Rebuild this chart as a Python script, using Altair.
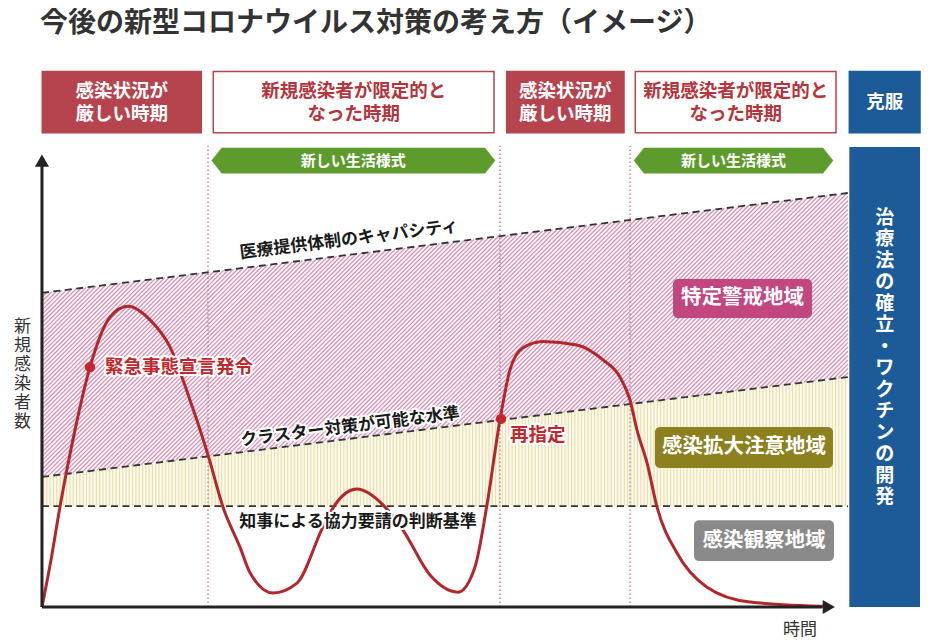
import altair as alt
import pandas as pd
import numpy as np

FONT = "Noto Sans CJK JP"

# ---------------- data (time t: 0..100 along the x axis, level: 0..100 up the y axis) ----------------
title_text = "今後の新型コロナウイルス対策の考え方（イメージ）"
y_title = "新規感染者数"
x_title = "時間"

curve_t = [0, 1.14, 2.28, 4.19, 6.09, 8.63, 10.91, 13.71, 16.24, 18.78,
           21.07, 22.97, 25.13, 26.40, 29.31, 32.36, 35.66, 37.18, 39.97, 43.27,
           45.81, 49.24, 52.79, 54.95, 56.47, 58.12, 59.39, 61.04, 63.58, 67.89,
           71.19, 73.35, 74.62, 75.51, 76.78, 78.05, 80.58, 84.39, 89.85, 100]
curve_v = [0, 10.4, 22.2, 39.3, 53.3, 64.4, 66.8, 63.8, 57.8, 46.0,
           33.8, 22.2, 13.3, 7.6, 3.1, 5.3, 17.8, 22.7, 26.2, 22.7,
           17.1, 7.1, 3.3, 8.9, 22.7, 41.6, 52.7, 57.6, 59.0, 58.2,
           54.9, 51.1, 46.0, 39.3, 32.0, 22.2, 12.0, 4.4, 1.1, 0.1]

# threshold lines, given at their two ends
line_t = [0, 102.28]
capacity = [69.8, 92.0]      # 医療提供体制のキャパシティ
cluster = [28.9, 51.1]       # クラスター対策が可能な水準
governor = [22.4, 22.4]      # 知事による協力要請の判断基準

line_labels = ["医療提供体制のキャパシティ", "クラスター対策が可能な水準"]
line_label_t = [38.96, 39.09]
line_label_v = [81.6, 40.0]
gov_label = "知事による協力要請の判断基準"
gov_label_t = [40.10]
gov_label_v = [18.9]

# phases (header boxes)
phase_text = ["感染状況が\n厳しい時期", "新規感染者が限定的と\nなった時期",
              "感染状況が\n厳しい時期", "新規感染者が限定的と\nなった時期", "克服"]
phase_kind = ["severe", "limited", "severe", "limited", "overcome"]
phase_start = [0.04, 21.74, 58.97, 75.29, 102.45]
phase_end = [20.22, 57.36, 73.86, 100.76, 111.42]
header_top = 119.0
header_bottom = 105.4

period_dividers = [21.07, 58.12, 74.62]

banner_text = "新しい生活様式"
banner_start = [21.54, 75.13]
banner_end = [57.49, 100.38]
banner_top = 102.0
banner_bottom = 96.4

overcome_text = "治療法の確立・ワクチンの開発"
overcome_top = 102.2
overcome_text_v = 55.4

event_labels = ["緊急事態宣言発令", "再指定"]
event_t = [6.09, 58.25]
event_v = [53.3, 41.8]
event_label_t = [8.0, 59.39]
event_label_v = [53.3, 38.2]

zone_labels = ["特定警戒地域", "感染拡大注意地域", "感染観察地域"]
zone_kind = ["alert", "caution", "watch"]
zone_t0 = [80.08, 77.79, 82.74]
zone_t1 = [97.72, 100.38, 100.51]
zone_v0 = [64.2, 30.9, 10.2]
zone_v1 = [72.9, 40.0, 19.3]

# ---------------- scales ----------------
W, H = 918, 634
XS = alt.Scale(domain=[-4.31, 112.18], zero=False, nice=False)
YS = alt.Scale(domain=[-7.78, 133.1], zero=False, nice=False)
PX_T = W / (112.18 + 4.31)
PX_L = H / (133.1 + 7.78)


def X(f):
    return alt.X(f, type="quantitative", scale=XS, axis=None)


def Y(f):
    return alt.Y(f, type="quantitative", scale=YS, axis=None)


def first_line_v(center_v, label, line_h):
    # vega draws the first line of a multi-line text at y; shift so the block is centred
    n = label.count("\n") + 1
    return center_v + (n - 1) * line_h / 2 / PX_L


layers = []

# ---------------- zone fills ----------------
band = pd.DataFrame({"t": line_t, "cap": capacity, "clu": cluster, "gov": governor})
layers.append(alt.Chart(band).mark_area(color="#fbf3f7").encode(x=X("t"), y=Y("clu"), y2="cap"))
layers.append(alt.Chart(band).mark_area(color="#fbf9ea").encode(x=X("t"), y=Y("gov"), y2="clu"))

# hatching (texture only)
T = line_t[1]
k = (capacity[1] - capacity[0]) / T
s = PX_T / PX_L
step_c = s * 4.3 / PX_T
rows = []
c = cluster[0] - (s - k) * T
while c < capacity[0]:
    t0 = max(0.0, (cluster[0] - c) / (s - k))
    t1 = min(T, (capacity[0] - c) / (s - k))
    if t1 > t0:
        rows.append({"t0": t0, "v0": s * t0 + c, "t1": t1, "v1": s * t1 + c})
    c += step_c
hatch = pd.DataFrame(rows)
layers.append(alt.Chart(hatch).mark_rule(color="#cf92b5", strokeWidth=1.2).encode(
    x=X("t0"), y=Y("v0"), x2="t1", y2="v1"))

vt = np.arange(0.2, T, 3.3 / PX_T)
vstripes = pd.DataFrame({"t": vt, "lo": governor[0], "hi": cluster[0] + k * vt})
layers.append(alt.Chart(vstripes).mark_rule(color="#e6deae", strokeWidth=1.1).encode(
    x=X("t"), y=Y("lo"), y2="hi"))

# period dividers
div = pd.DataFrame({"t": period_dividers, "lo": 0, "hi": banner_top + 0.5})
layers.append(alt.Chart(div).mark_rule(color="#b9808f", strokeWidth=1.4, strokeDash=[1.5, 2.5]).encode(
    x=X("t"), y=Y("lo"), y2="hi"))

# threshold dashed lines
thr = pd.DataFrame({"t": line_t * 3, "v": capacity + cluster + governor,
                    "name": ["cap"] * 2 + ["clu"] * 2 + ["gov"] * 2})
layers.append(alt.Chart(thr).mark_line(color="#333333", strokeWidth=1.8, strokeDash=[7, 4.5]).encode(
    x=X("t"), y=Y("v"), detail="name:N"))

# curve
curve = pd.DataFrame({"t": curve_t, "v": curve_v})
layers.append(alt.Chart(curve).mark_line(color="#b3272c", strokeWidth=3, interpolate="monotone").encode(
    x=X("t"), y=Y("v")))

# axes with arrows
axes = pd.DataFrame({"t": [0, 0], "v": [0, 0], "t2": [0, 99.0], "v2": [99.0, 0]})
layers.append(alt.Chart(axes).mark_rule(color="#222222", strokeWidth=3).encode(
    x=X("t"), y=Y("v"), x2="t2", y2="v2"))
layers.append(alt.Chart(pd.DataFrame({"t": [0], "v": [99.2]})).mark_point(
    shape="triangle-up", filled=True, size=200, color="#222222", opacity=1).encode(x=X("t"), y=Y("v")))
layers.append(alt.Chart(pd.DataFrame({"t": [99.85], "v": [0]})).mark_point(
    shape="triangle-right", filled=True, size=200, color="#222222", opacity=1).encode(x=X("t"), y=Y("v")))

# event points
ev = pd.DataFrame({"t": event_t, "v": event_v})
layers.append(alt.Chart(ev).mark_circle(size=110, color="#c0282d", opacity=1).encode(x=X("t"), y=Y("v")))


def text_layers(df, halo=True, **props):
    base = dict(font=FONT, **props)
    out = []
    if halo:
        out.append(alt.Chart(df).mark_text(stroke="white", strokeWidth=4, strokeJoin="round", **base).encode(
            x=X("t"), y=Y("v"), text="label:N"))
    out.append(alt.Chart(df).mark_text(**base).encode(x=X("t"), y=Y("v"), text="label:N"))
    return out


# line labels
ll = pd.DataFrame({"t": line_label_t, "v": line_label_v, "label": line_labels})
layers += text_layers(ll, fontSize=17, fontWeight="bold", color="#1a1a1a", angle=352.9,
                      align="center", baseline="middle")
gl = pd.DataFrame({"t": gov_label_t, "v": gov_label_v, "label": [gov_label]})
layers += text_layers(gl, fontSize=17, fontWeight="bold", color="#1a1a1a", align="center", baseline="middle")

# event labels
el = pd.DataFrame({"t": event_label_t, "v": event_label_v, "label": event_labels})
layers += text_layers(el, fontSize=18.5, fontWeight="bold", color="#c0282d", align="left", baseline="middle")

# zone boxes
zone_colors = {"alert": "#c2467f", "caution": "#8c801f", "watch": "#8a8a8a"}
zb = pd.DataFrame({"t0": zone_t0, "t1": zone_t1, "v0": zone_v0, "v1": zone_v1, "kind": zone_kind,
                   "label": zone_labels})
zb["t"] = (zb["t0"] + zb["t1"]) / 2
zb["v"] = (zb["v0"] + zb["v1"]) / 2
for kind, col in zone_colors.items():
    sub = zb[zb["kind"] == kind]
    layers.append(alt.Chart(sub).mark_rect(cornerRadius=5, color=col).encode(
        x=X("t0"), x2="t1", y=Y("v0"), y2="v1"))
layers += text_layers(zb, halo=False, fontSize=20.5, fontWeight="bold", color="white",
                      align="center", baseline="middle")

# header boxes
HEAD_LH = 23
hb = pd.DataFrame({"t0": phase_start, "t1": phase_end, "kind": phase_kind, "label": phase_text})
hb["v0"] = header_bottom
hb["v1"] = header_top
hb["t"] = (hb["t0"] + hb["t1"]) / 2
hb["v"] = [first_line_v((header_top + header_bottom) / 2, lab, HEAD_LH) for lab in phase_text]
head_style = {"severe": ("#b5444e", "#b5444e", "#ffffff"),
              "limited": ("#ffffff", "#b5444e", "#b3363c"),
              "overcome": ("#1d5b98", "#1d5b98", "#ffffff")}
for kind, (fill, stroke, tcol) in head_style.items():
    sub = hb[hb["kind"] == kind]
    layers.append(alt.Chart(sub).mark_rect(fill=fill, stroke=stroke, strokeWidth=1.5).encode(
        x=X("t0"), x2="t1", y=Y("v0"), y2="v1"))
    layers.append(alt.Chart(sub).mark_text(font=FONT, fontSize=18.5, fontWeight="bold", lineBreak="\n",
                                           lineHeight=HEAD_LH, align="center", baseline="middle",
                                           color=tcol).encode(x=X("t"), y=Y("v"), text="label:N"))

# overcome band
OB_LH = 21.5
ob_label = "\n".join(list(overcome_text))
ob = pd.DataFrame({"t0": [phase_start[4]], "t1": [phase_end[4]], "v0": [0], "v1": [overcome_top],
                   "label": [ob_label]})
ob["t"] = (ob["t0"] + ob["t1"]) / 2
ob["v"] = first_line_v(overcome_text_v, ob_label, OB_LH)
layers.append(alt.Chart(ob).mark_rect(color="#1d5b98").encode(x=X("t0"), x2="t1", y=Y("v0"), y2="v1"))
layers.append(alt.Chart(ob).mark_text(font=FONT, fontSize=19, fontWeight="bold", color="white",
                                      lineBreak="\n", lineHeight=OB_LH, align="center", baseline="middle").encode(
    x=X("t"), y=Y("v"), text="label:N"))

# green banners
brows = []
notch = 1.27
mid = (banner_top + banner_bottom) / 2
for i, (s0, e0) in enumerate(zip(banner_start, banner_end)):
    pts = [(s0, mid), (s0 + notch, banner_top), (e0 - notch, banner_top), (e0, mid),
           (e0 - notch, banner_bottom), (s0 + notch, banner_bottom), (s0, mid)]
    for j, (a, b) in enumerate(pts):
        brows.append({"id": i, "k": j, "t": a, "v": b})
bp = pd.DataFrame(brows)
layers.append(alt.Chart(bp).mark_line(fill="#5e9b2d", stroke="#5e9b2d", strokeWidth=0.5).encode(
    x=X("t"), y=Y("v"), detail="id:N", order="k:Q"))
bt = pd.DataFrame({"t": [(a + b) / 2 for a, b in zip(banner_start, banner_end)], "v": mid,
                   "label": banner_text})
layers += text_layers(bt, halo=False, fontSize=15, fontWeight="bold", color="white",
                      align="center", baseline="middle")

# titles
tt = pd.DataFrame({"t": [-0.25], "v": [129.5], "label": [title_text]})
layers += text_layers(tt, halo=False, fontSize=28, fontWeight="bold", color="#333333",
                      align="left", baseline="middle")
Y_LH = 19
yt_label = "\n".join(list(y_title))
yt = pd.DataFrame({"t": [-2.47], "v": [first_line_v(51.6, yt_label, Y_LH)], "label": [yt_label]})
layers.append(alt.Chart(yt).mark_text(font=FONT, fontSize=17, color="#333333", lineBreak="\n",
                                      lineHeight=Y_LH, align="center", baseline="middle").encode(
    x=X("t"), y=Y("v"), text="label:N"))
xt = pd.DataFrame({"t": [96.19], "v": [-5.1], "label": [x_title]})
layers += text_layers(xt, halo=False, fontSize=17, color="#333333", align="center", baseline="middle")

chart = alt.layer(*layers).properties(
    width=W, height=H, padding=0, autosize=alt.AutoSizeParams(type="none")
).configure_view(stroke=None)

chart.save("out.html", embed_options={"renderer": "svg", "actions": False})
